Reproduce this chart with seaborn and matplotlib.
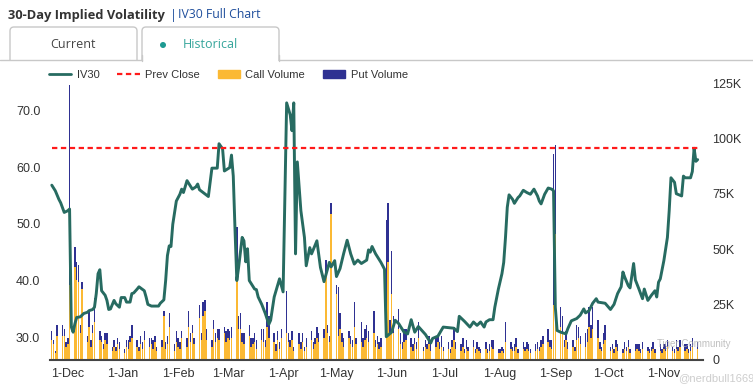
import matplotlib
matplotlib.use("Agg")
import matplotlib.pyplot as plt
from matplotlib.lines import Line2D
from matplotlib.patches import Patch, FancyBboxPatch, Rectangle, Circle
import numpy as np
import pandas as pd
import seaborn as sns

# %% data (volumes in thousands, one bar per business day from start_day)
start_day = "2022-11-22"
call_vol = [
    9, 7, 3, 11, 11, 11, 6, 7, 34, 42, 36, 35, 12, 32, 8, 15, 6, 12, 17, 9,
    8, 5, 9, 7, 4, 6, 4, 7, 5, 3, 6, 5, 8, 10, 6, 4, 7, 5, 9, 6,
    7, 5, 8, 4, 6, 20, 5, 7, 15, 4, 8, 6, 5, 10, 6, 15, 8, 12, 7, 19,
    9, 20, 22, 9, 6, 14, 8, 10, 9, 12, 8, 10, 9, 10, 38, 14, 14, 8, 7, 11,
    6, 7, 8, 5, 9, 8, 6, 15, 10, 8, 4, 9, 5, 10, 12, 8, 6, 9, 4, 7,
    5, 8, 4, 6, 9, 5, 7, 10, 8, 10, 38, 12, 8, 66, 30, 11, 14, 8, 6, 10,
    7, 6, 15, 7, 8, 6, 9, 10, 8, 12, 6, 7, 5, 6, 15, 44, 12, 30, 12, 14,
    7, 5, 8, 9, 6, 4, 7, 5, 10, 4, 6, 5, 7, 4, 6, 8, 5, 6, 4, 5,
    3, 6, 9, 5, 4, 6, 3, 5, 4, 6, 3, 5, 4, 3, 5, 3, 4, 6, 5, 3,
    3, 4, 3, 8, 5, 4, 4, 6, 3, 5, 4, 5, 4, 3, 4, 5, 4, 6, 7, 8,
    6, 5, 25, 57, 15, 12, 6, 9, 5, 6, 4, 9, 10, 7, 6, 8, 15, 10, 14, 10,
    5, 4, 7, 9, 4, 5, 3, 6, 4, 3, 5, 4, 6, 3, 4, 5, 4, 3, 5, 4,
    3, 4, 5, 3, 4, 3, 5, 4, 6, 4, 3, 5, 4, 6, 4, 5, 3, 4, 6, 5,
]
put_vol = [
    4, 2, 1, 5, 5, 3, 2, 3, 90, 9, 8, 8, 4, 3, 3, 7, 3, 4, 11, 4,
    3, 2, 3, 5, 2, 3, 2, 3, 3, 2, 3, 4, 3, 6, 3, 2, 4, 3, 4, 4,
    3, 4, 3, 2, 3, 2, 3, 4, 6, 3, 5, 4, 3, 3, 4, 7, 4, 4, 3, 6,
    3, 6, 5, 5, 3, 4, 4, 4, 5, 3, 5, 4, 4, 5, 22, 6, 7, 4, 5, 5,
    4, 3, 4, 4, 5, 6, 3, 11, 10, 4, 3, 4, 3, 4, 19, 4, 3, 4, 2, 5,
    3, 4, 2, 4, 4, 3, 3, 5, 4, 4, 7, 4, 3, 5, 4, 22, 7, 4, 4, 3,
    4, 3, 11, 3, 9, 4, 5, 6, 5, 10, 3, 4, 3, 4, 48, 27, 6, 19, 8, 9,
    5, 3, 6, 5, 4, 3, 3, 3, 7, 2, 3, 2, 4, 3, 5, 3, 3, 5, 2, 3,
    2, 3, 6, 3, 3, 4, 2, 4, 2, 3, 2, 3, 2, 2, 3, 2, 3, 3, 4, 2,
    2, 2, 2, 9, 3, 2, 3, 4, 2, 3, 2, 3, 3, 2, 3, 3, 2, 3, 4, 6,
    3, 4, 68, 40, 9, 8, 3, 4, 3, 3, 2, 7, 5, 4, 6, 6, 9, 6, 10, 8,
    3, 2, 5, 7, 2, 2, 2, 3, 3, 2, 3, 2, 3, 2, 3, 2, 3, 2, 3, 2,
    2, 2, 3, 2, 3, 2, 2, 3, 3, 2, 2, 4, 2, 3, 3, 2, 2, 3, 4, 3,
]

iv_dates = [
    "2022-11-22", "2022-11-24", "2022-11-26", "2022-11-27", "2022-11-29", "2022-12-01",
    "2022-12-02", "2022-12-03", "2022-12-04", "2022-12-05", "2022-12-06", "2022-12-08",
    "2022-12-10", "2022-12-12", "2022-12-13", "2022-12-15", "2022-12-16", "2022-12-17",
    "2022-12-18", "2022-12-19", "2022-12-20", "2022-12-22", "2022-12-23", "2022-12-24",
    "2022-12-25", "2022-12-27", "2022-12-28", "2022-12-30", "2022-12-31", "2023-01-02",
    "2023-01-03", "2023-01-05", "2023-01-06", "2023-01-07", "2023-01-09", "2023-01-10",
    "2023-01-13", "2023-01-14", "2023-01-15", "2023-01-17", "2023-01-21", "2023-01-22",
    "2023-01-24", "2023-01-25", "2023-01-26", "2023-01-27", "2023-01-28", "2023-01-29",
    "2023-01-31", "2023-02-02", "2023-02-03", "2023-02-04", "2023-02-06", "2023-02-09",
    "2023-02-11", "2023-02-12", "2023-02-13", "2023-02-18", "2023-02-20", "2023-02-23",
    "2023-02-24", "2023-02-26", "2023-02-27", "2023-03-02", "2023-03-03", "2023-03-04",
    "2023-03-05", "2023-03-06", "2023-03-07", "2023-03-09", "2023-03-10", "2023-03-11",
    "2023-03-12", "2023-03-13", "2023-03-16", "2023-03-17", "2023-03-18", "2023-03-20",
    "2023-03-22", "2023-03-24", "2023-03-25", "2023-03-27", "2023-03-30", "2023-04-01",
    "2023-04-03", "2023-04-05", "2023-04-06", "2023-04-07", "2023-04-08", "2023-04-09",
    "2023-04-11", "2023-04-13", "2023-04-14", "2023-04-16", "2023-04-17", "2023-04-20",
    "2023-04-22", "2023-04-24", "2023-04-27", "2023-04-28", "2023-04-30", "2023-05-01",
    "2023-05-03", "2023-05-05", "2023-05-07", "2023-05-09", "2023-05-11", "2023-05-13",
    "2023-05-15", "2023-05-18", "2023-05-19", "2023-05-20", "2023-05-21", "2023-05-23",
    "2023-05-26", "2023-05-27", "2023-05-28", "2023-05-29", "2023-06-01", "2023-06-03",
    "2023-06-05", "2023-06-08", "2023-06-10", "2023-06-12", "2023-06-14", "2023-06-16",
    "2023-06-18", "2023-06-20", "2023-06-23", "2023-06-24", "2023-06-27", "2023-06-30",
    "2023-07-03", "2023-07-06", "2023-07-08", "2023-07-09", "2023-07-12", "2023-07-15",
    "2023-07-17", "2023-07-19", "2023-07-21", "2023-07-23", "2023-07-24", "2023-07-26",
    "2023-07-28", "2023-07-29", "2023-07-31", "2023-08-02", "2023-08-03", "2023-08-04",
    "2023-08-05", "2023-08-06", "2023-08-08", "2023-08-09", "2023-08-11", "2023-08-12",
    "2023-08-14", "2023-08-16", "2023-08-18", "2023-08-20", "2023-08-22", "2023-08-23",
    "2023-08-24", "2023-08-26", "2023-08-28", "2023-08-30", "2023-08-31", "2023-09-01",
    "2023-09-02", "2023-09-04", "2023-09-07", "2023-09-08", "2023-09-10", "2023-09-13",
    "2023-09-15", "2023-09-17", "2023-09-18", "2023-09-20", "2023-09-22", "2023-09-24",
    "2023-09-25", "2023-09-29", "2023-10-02", "2023-10-04", "2023-10-06", "2023-10-08",
    "2023-10-09", "2023-10-10", "2023-10-12", "2023-10-13", "2023-10-15", "2023-10-16",
    "2023-10-18", "2023-10-20", "2023-10-21", "2023-10-23", "2023-10-25", "2023-10-27",
    "2023-10-28", "2023-10-29", "2023-10-30", "2023-11-01", "2023-11-03", "2023-11-04",
    "2023-11-05", "2023-11-07", "2023-11-08", "2023-11-11", "2023-11-12", "2023-11-13",
    "2023-11-16", "2023-11-17", "2023-11-18", "2023-11-19", "2023-11-20",
]
iv30 = [
    56.8, 55.8, 54.3, 53.7, 52.0, 52.3,
    52.6, 31.8, 30.9, 32.4, 33.5, 33.6,
    34.2, 34.4, 34.7, 34.9, 35.3, 37.7,
    41.2, 41.9, 38.2, 37.4, 36.5, 34.9,
    35.0, 36.5, 35.9, 35.3, 37.0, 37.0,
    36.2, 36.2, 37.7, 37.8, 38.5, 38.9,
    38.2, 37.1, 35.8, 35.5, 35.5, 36.0,
    36.6, 40.0, 44.4, 46.1, 46.0, 49.9,
    54.0, 55.2, 56.1, 55.5, 57.6, 56.1,
    56.5, 57.0, 56.0, 54.8, 59.8, 59.8,
    64.1, 63.2, 59.3, 59.9, 62.1, 58.4,
    48.8, 40.0, 42.3, 47.6, 47.0, 43.3,
    45.6, 40.0, 38.5, 38.4, 37.1, 35.8,
    34.2, 32.3, 33.0, 37.1, 40.3, 38.0,
    71.3, 69.2, 66.4, 71.3, 44.7, 60.9,
    52.3, 47.6, 42.6, 45.8, 44.7, 47.0,
    42.3, 39.8, 43.2, 42.4, 43.5, 40.7,
    42.1, 44.7, 47.1, 44.7, 42.9, 43.6,
    43.0, 43.6, 45.4, 45.0, 46.0, 44.7,
    43.2, 42.6, 42.0, 30.1, 30.9, 33.0,
    32.4, 30.9, 30.6, 33.1, 30.9, 31.9,
    31.2, 30.5, 29.0, 29.8, 30.2, 31.8,
    31.7, 31.6, 31.0, 33.7, 32.8, 31.8,
    32.7, 32.1, 32.7, 31.8, 32.7, 33.1,
    33.1, 35.3, 38.5, 41.2, 43.2, 47.6,
    52.9, 55.1, 54.3, 53.6, 54.6, 54.9,
    55.9, 55.5, 55.2, 56.1, 54.9, 54.0,
    53.5, 55.2, 56.3, 56.1, 55.8, 35.3,
    31.2, 30.9, 30.6, 31.5, 32.9, 33.3,
    33.9, 35.0, 34.3, 34.7, 36.0, 36.8,
    36.2, 36.0, 34.9, 35.8, 37.7, 38.9,
    41.5, 40.6, 39.1, 38.7, 43.0, 40.1,
    38.5, 36.8, 38.5, 36.5, 37.4, 38.2,
    37.1, 39.7, 40.3, 43.5, 47.6, 52.3,
    58.1, 57.3, 55.3, 54.9, 58.4, 58.1,
    58.1, 59.2, 63.3, 61.0, 61.3,
]
prev_close = 63.3

month_ticks = ["2022-12-01", "2023-01-01", "2023-02-01", "2023-03-01", "2023-04-01", "2023-05-01",
               "2023-06-01", "2023-07-01", "2023-08-01", "2023-09-01", "2023-10-01", "2023-11-01"]
month_labels = ["1-Dec", "1-Jan", "1-Feb", "1-Mar", "1-Apr", "1-May",
                "1-Jun", "1-Jul", "1-Aug", "1-Sep", "1-Oct", "1-Nov"]
iv_ticks = [30, 40, 50, 60, 70]
vol_ticks = [0, 25, 50, 75, 100, 125]

# %% style
sns.set_style("white")
plt.rcParams["font.family"] = ["Liberation Sans", "DejaVu Sans"]

IV_COLOR = "#276b61"
CALL_COLOR = "#fbb934"
PUT_COLOR = "#2f3192"
RED = "#ff1a1a"
TXT = "#333333"
HEAD_FONT = ["Open Sans", "DejaVu Sans"]

W, H = 753, 386
fig = plt.figure(figsize=(W / 100, H / 100), dpi=100)
ax = fig.add_axes([50 / W, 1 - 360 / H, 653 / W, 277 / H])
ax2 = ax.twinx()
ax.set_zorder(ax2.get_zorder() + 1)
ax.patch.set_visible(False)

# volume bars (right axis)
days = pd.bdate_range(start_day, periods=len(call_vol))
ax2.bar(days, call_vol, width=0.8, color=CALL_COLOR, linewidth=0)
ax2.bar(days, put_vol, bottom=call_vol, width=0.8, color=PUT_COLOR, linewidth=0)

# IV30 line (left axis)
df = pd.DataFrame({"date": pd.to_datetime(iv_dates), "iv": iv30})
sns.lineplot(data=df, x="date", y="iv", ax=ax, color=IV_COLOR, linewidth=2.1,
             estimator=None, legend=False)
ax.hlines(prev_close, df["date"].min(), df["date"].max(), color=RED,
          linewidth=1.6, linestyles=(0, (2.4, 1.6)))

ax.set_xlim(pd.Timestamp("2022-11-21"), pd.Timestamp("2023-11-23"))
ax.set_ylim(26.0, 74.8)
ax2.set_ylim(0, 125)

ax.set_xticks(pd.to_datetime(month_ticks))
ax.set_xticklabels(month_labels)
ax.set_yticks(iv_ticks)
ax.set_yticklabels([f"{v:.1f}" for v in iv_ticks])
ax2.set_yticks(vol_ticks)
ax2.set_yticklabels(["0" if v == 0 else f"{v}K" for v in vol_ticks])
ax.set_xlabel("")
ax.set_ylabel("")
ax.tick_params(axis="x", length=0, pad=6, labelsize=9, labelcolor=TXT)
ax.tick_params(axis="y", length=0, pad=7, labelsize=9, labelcolor=TXT)
ax2.tick_params(axis="y", length=0, pad=6.5, labelsize=9, labelcolor=TXT)

for s in ["top", "left", "right"]:
    ax.spines[s].set_visible(False)
for s in ax2.spines.values():
    s.set_visible(False)
ax.spines["bottom"].set_color("#444444")
ax.spines["bottom"].set_linewidth(1.5)

# legend
handles = [
    Line2D([], [], color=IV_COLOR, lw=2),
    Line2D([], [], color=RED, lw=1.6, dashes=(2.4, 1.6)),
    Patch(color=CALL_COLOR),
    Patch(color=PUT_COLOR),
]
fig.legend(handles, ["IV30", "Prev Close", "Call Volume", "Put Volume"],
           loc="center left", bbox_to_anchor=(49 / W, 1 - 75 / H), ncol=4,
           frameon=False, fontsize=8, handlelength=2.0, handletextpad=0.5,
           columnspacing=1.6, borderaxespad=0, borderpad=0, labelcolor=TXT)

# header: title and tabs, drawn in pixel coordinates
ov = fig.add_axes([0, 0, 1, 1], zorder=-1)
ov.set_xlim(0, W)
ov.set_ylim(H, 0)
ov.axis("off")

ov.text(8, 15, "30-Day Implied Volatility", fontsize=9.3, weight="bold",
        color=TXT, va="center", family=HEAD_FONT)
ov.text(170, 15, "|", fontsize=9.3, color="#1f4e9c", va="center", family=HEAD_FONT)
ov.text(178, 15, "IV30 Full Chart", fontsize=8.8, color="#1f4e9c", va="center",
        family=HEAD_FONT)

for x0, x1 in [(10, 137), (142, 279)]:
    ov.add_patch(FancyBboxPatch((x0, 27), x1 - x0, 45, boxstyle="round,pad=0,rounding_size=4",
                                facecolor="white", edgecolor="#c8c8c8", linewidth=1))
ov.add_patch(Rectangle((0, 60.5), W, 20, facecolor="white", edgecolor="none", zorder=3))
ov.plot([0, 142], [60, 60], color="#c8c8c8", lw=1, zorder=4)
ov.plot([142, 142], [55, 60.5], color="#c8c8c8", lw=1, zorder=4)
ov.plot([279, 279], [55, 60.5], color="#c8c8c8", lw=1, zorder=4)
ov.plot([279, W], [60, 60], color="#c8c8c8", lw=1, zorder=4)
ov.text(73, 44, "Current", fontsize=9, color="#444444", ha="center", va="center",
        family=HEAD_FONT)
ov.add_patch(Circle((163, 45), 3, facecolor="#1e9a92", edgecolor="none"))
ov.text(183, 44, "Historical", fontsize=9, color="#35a59b", ha="left", va="center",
        family=HEAD_FONT)

# watermark, drawn on top of the plot
fig.text(694 / W, 1 - 344 / H, "Tiger Community", fontsize=7, color="#b0b0b0",
         alpha=0.8, ha="center", va="center")
fig.text(716 / W, 1 - 378 / H, "@nerdbull1669", fontsize=8, color="#c8c8c8",
         alpha=0.9, ha="center", va="center")

fig.savefig("out.png", dpi=100)
